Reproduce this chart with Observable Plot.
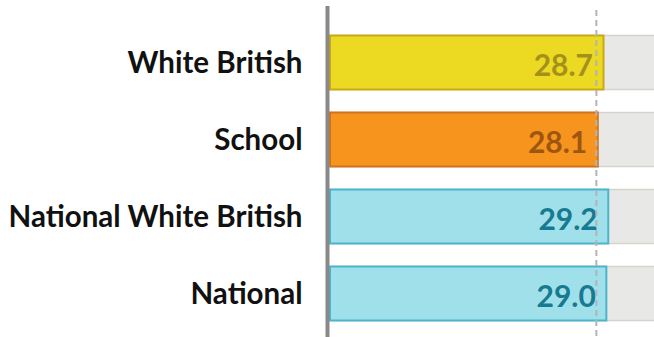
<!DOCTYPE html>
<html>
<head>
<meta charset="utf-8">
<script src="https://cdn.jsdelivr.net/npm/d3@7"></script>
<script src="https://cdn.jsdelivr.net/npm/@observablehq/plot@0.6"></script>
<style>
  html, body { margin: 0; padding: 0; background: #fff; overflow: hidden; }
</style>
</head>
<body>
<div id="chart"></div>
<script>
const categories = ["White British", "School", "National White British", "National"];
const values = [28.7, 28.1, 29.2, 29.0];
const fills = ["#ecd922", "#f7941e", "#a0e0eb", "#a0e0eb"];
const strokes = ["#c9a917", "#d0731a", "#4bb5cd", "#4bb5cd"];
const labelColors = ["#a5901c", "#9c560f", "#167a90", "#167a90"];
const referenceValue = 27.9;
const xMax = 34;

const data = categories.map((c, i) => ({
  category: c, value: values[i], fill: fills[i], stroke: strokes[i], labelColor: labelColors[i]
}));

const chart = Plot.plot({
  width: 654,
  height: 337,
  marginLeft: 330,
  marginRight: 0,
  marginTop: 6,
  marginBottom: 0,
  style: { fontFamily: "Lato, sans-serif", background: "#fff" },
  x: { domain: [0, xMax], axis: null },
  y: { domain: categories, padding: 0, paddingOuter: 0.122, align: 0.78, label: null },
  marks: [
    Plot.barX(data, {
      x1: 0, x2: xMax + 2, y: "category",
      fill: "#e8e8e6", stroke: "#d4d4cc", strokeWidth: 1.5,
      insetTop: 11.5, insetBottom: 11.5, clip: true
    }),
    Plot.barX(data, {
      x: "value", y: "category",
      fill: d => d.fill, stroke: d => d.stroke, strokeWidth: 2,
      insetTop: 11.5, insetBottom: 11.5
    }),
    Plot.text(data, {
      x: "value", y: "category", text: d => d.value.toFixed(1),
      fill: d => d.labelColor, textAnchor: "end", dx: -11, dy: 3,
      fontSize: 30, fontWeight: "bold"
    }),
    Plot.ruleX([referenceValue], {
      stroke: "#b4b4b4", strokeWidth: 2, strokeDasharray: "6,4", insetTop: 4
    }),
    Plot.ruleX([0], { stroke: "#888", strokeWidth: 4, dx: -3 }),
    Plot.axisY({
      tickSize: 0, tickPadding: 28, fontSize: 29.5, fontWeight: "bold",
      fill: "#111", label: null, dy: 1
    })
  ]
});

document.getElementById("chart").append(chart);
</script>
</body>
</html>
